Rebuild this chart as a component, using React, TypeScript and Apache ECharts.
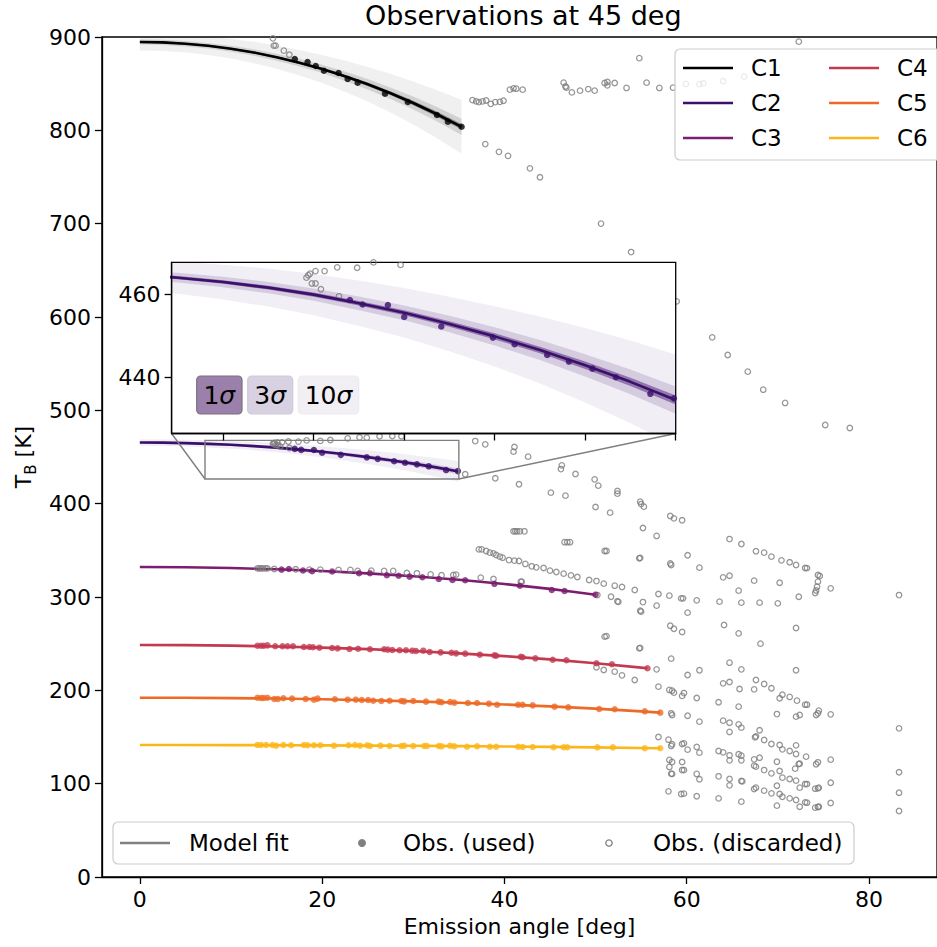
import React, { useEffect, useRef } from 'react';
import * as echarts from 'echarts';

const FONT = 'DejaVu Sans';

// ---------- axes / ticks ----------
const xRange = [-4.165, 87.465];
const yRange = [0, 900];
const xTicks = [0, 20, 40, 60, 80];
const insetXRange = [7.15, 35.0];
const insetYRange = [426.4, 467.8];
const insetXTicks = [10, 15, 20, 25, 30, 35];
const insetYTicks = [440, 460];

// ---------- channels ----------
const channelNames = ['C1', 'C2', 'C3', 'C4', 'C5', 'C6'];
const channelColors = ['#000000', '#3b0f6b', '#7c1d6f', '#c33a50', '#ed6925', '#fbb61a'];

// model fits [angle, T]
const c1Fit = [[0, 894.6], [2.5, 894.2], [5, 892.8], [7.5, 890.6], [10, 887.4], [12.5, 883.4], [15, 878.4], [17.5, 872.5], [20, 865.8], [22.5, 858.0], [25, 849.4], [27.5, 839.8], [30, 829.3], [32.5, 817.8], [35.3, 803.8]];
const c1Sigma = [0.9, 0.92, 0.95, 1.0, 1.05, 1.15, 1.25, 1.37, 1.5, 1.67, 1.85, 2.07, 2.3, 2.58, 2.9];
const c2Fit = [[0, 465.5], [2.5, 465.35], [5, 464.9], [7.5, 464.1], [10, 463.05], [12.5, 461.7], [15, 460.0], [17.5, 457.9], [20, 455.6], [22.5, 452.9], [25, 449.9], [27.5, 446.6], [30, 442.9], [32.5, 438.9], [35, 434.5]];
const c2Sigma = [0.35, 0.36, 0.37, 0.39, 0.42, 0.46, 0.5, 0.55, 0.6, 0.66, 0.73, 0.81, 0.9, 1.0, 1.1];
const c3Fit = [[0, 332.1], [5, 331.8], [10, 331.0], [15, 329.7], [20, 327.8], [25, 325.3], [30, 322.2], [35, 318.4], [40, 313.9], [45, 308.7], [47.5, 305.7], [50, 302.5]];
const c4Fit = [[0, 248.6], [5, 248.4], [10, 247.9], [15, 247.0], [20, 245.8], [25, 244.1], [30, 242.1], [35, 239.6], [40, 236.7], [45, 233.2], [50, 229.1], [55, 224.3], [55.7, 223.6]];
const c5Fit = [[0, 192.1], [5, 192.0], [10, 191.7], [15, 191.2], [20, 190.4], [25, 189.4], [30, 188.2], [35, 186.7], [40, 184.9], [45, 182.8], [50, 180.4], [55, 177.5], [57.1, 176.1]];
const c6Fit = [[0, 141.4], [5, 141.4], [10, 141.3], [15, 141.2], [20, 141.0], [25, 140.8], [30, 140.6], [35, 140.25], [40, 139.9], [45, 139.4], [50, 138.9], [55, 138.2], [57.1, 137.9]];

// observations used in the fits
const c1Used = [[17.0, 876.4], [18.4, 873.2], [19.3, 868.9], [20.2, 863.9], [21.8, 861.4], [22.8, 855.0], [23.9, 851.1], [26.9, 839.3], [29.4, 830.4], [32.6, 816.4], [33.8, 809.3], [35.3, 803.9]];
const c2Used = [[17.0, 458.7], [17.7, 457.6], [19.1, 457.5], [20.0, 454.6], [22.05, 452.3], [24.9, 449.6], [26.1, 448.0], [27.9, 445.4], [29.1, 443.8], [30.4, 442.1], [31.7, 440.0], [33.6, 436.0], [34.9, 434.9]];
const c3Used = [[15.55, 329.3], [16.35, 330.0], [17.9, 328.4], [18.9, 327.7], [21.1, 327.3], [24.05, 325.5], [25.25, 325.5], [27.1, 323.3], [28.4, 322.8], [29.6, 321.8], [31.0, 321.2], [32.8, 319.3], [34.3, 318.3], [35.7, 318.0], [38.9, 314.1], [41.7, 312.1], [45.2, 307.5], [46.6, 306.4], [50.0, 302.5]];
const c4Used = [[12.9, 247.8], [13.3, 247.8], [13.6, 247.8], [14.0, 248.2], [14.85, 247.2], [15.65, 247.2], [16.2, 247.2], [16.8, 247.2], [18.0, 246.4], [18.6, 246.4], [19.0, 246.1], [19.7, 245.7], [21.1, 245.4], [21.7, 245.0], [23.0, 244.3], [23.95, 244.6], [25.25, 244.0], [26.8, 244.0], [27.2, 243.6], [27.7, 243.2], [28.5, 242.9], [29.2, 242.9], [29.9, 242.5], [30.3, 242.1], [31.1, 242.5], [31.8, 241.1], [33.0, 240.7], [34.2, 240.3], [34.7, 239.6], [35.7, 239.3], [37.3, 238.2], [38.9, 237.5], [39.1, 237.1], [41.8, 236.0], [42.0, 235.4], [43.4, 234.3], [45.3, 232.8], [46.8, 232.2], [50.1, 229.0], [51.8, 227.9], [55.7, 223.6]];
const c5Used = [[12.9, 192.1], [13.3, 191.8], [13.6, 191.8], [14.0, 192.1], [14.75, 190.7], [15.15, 190.7], [15.75, 191.5], [16.7, 191.1], [18.2, 190.7], [19.1, 190.0], [19.5, 191.1], [21.4, 190.4], [22.8, 190.0], [23.7, 190.0], [24.35, 189.6], [25.05, 189.6], [25.6, 188.9], [26.5, 188.6], [27.4, 188.9], [28.7, 188.6], [29.0, 188.2], [30.0, 188.6], [31.4, 187.9], [32.8, 187.9], [33.1, 187.2], [34.05, 187.5], [34.5, 186.8], [36.0, 186.4], [37.0, 186.4], [38.3, 185.7], [39.2, 184.6], [41.5, 184.6], [42.0, 184.6], [43.1, 183.9], [45.5, 182.5], [47.0, 181.8], [50.4, 180.0], [52.1, 179.7], [55.4, 177.5], [57.1, 176.1]];
const c6Used = [[12.9, 141.4], [13.3, 141.4], [13.85, 141.4], [14.55, 141.4], [14.95, 140.7], [15.75, 141.4], [16.6, 141.1], [18.0, 141.4], [18.4, 141.1], [19.1, 141.1], [19.8, 141.1], [21.3, 140.7], [22.9, 141.1], [23.6, 141.4], [24.15, 140.7], [24.95, 141.1], [25.25, 140.4], [26.4, 140.7], [27.4, 140.4], [28.7, 140.4], [29.0, 140.7], [30.0, 140.4], [31.2, 140.4], [31.5, 140.4], [32.8, 140.4], [33.1, 140.0], [34.05, 140.7], [34.5, 140.0], [35.9, 139.6], [37.0, 140.0], [38.4, 139.6], [39.1, 139.6], [41.5, 139.6], [42.0, 139.3], [43.1, 139.3], [45.4, 139.0], [46.5, 139.0], [46.9, 139.0], [50.2, 138.9], [51.9, 138.9], [55.4, 137.9], [57.1, 137.9]];

// discarded observations
const discardedHigh = [[14.6, 898.6], [14.7, 890.8], [14.9, 890.8], [15.8, 885.4], [16.4, 881.0],
  [36.5, 832.4], [36.9, 831.0], [37.2, 830.3], [37.6, 831.0], [38.0, 832.0], [38.5, 828.4], [39.0, 830.3], [39.5, 830.5], [39.9, 831.7],
  [40.6, 843.6], [41.0, 845.0], [41.3, 844.6], [42.0, 843.6],
  [46.5, 851.1], [46.7, 847.0], [46.8, 845.7], [47.4, 840.6], [48.3, 842.5], [49.2, 844.2], [49.9, 842.5], [51.0, 850.7], [51.3, 851.8], [51.3, 848.2], [52.1, 850.7], [53.4, 845.4], [54.8, 877.3], [55.6, 851.1], [57.0, 845.4], [58.5, 845.7], [59.9, 849.7], [61.4, 849.5], [61.8, 850.4], [64.0, 852.6], [66.3, 857.6], [72.3, 895.0],
  [37.9, 785.3], [39.4, 777.0], [40.4, 772.7], [42.8, 759.3], [43.9, 749.7], [50.6, 700.1], [53.9, 669.6], [58.9, 616.8], [62.8, 578.2], [64.5, 559.3], [66.7, 541.4], [68.4, 522.1], [70.8, 507.9], [75.2, 484.3], [77.9, 481.1]];
const discardedMid = [[14.6, 464.1], [14.7, 464.7], [14.8, 465.1], [14.9, 462.7], [15.1, 462.7], [15.1, 465.7], [15.4, 461.3], [15.6, 465.7], [16.3, 466.6], [16.4, 459.6], [17.4, 466.5], [18.3, 467.8], [19.8, 467.2], [20.9, 468.2], [22.8, 470.0], [24.1, 471.1], [24.9, 470.7], [26.3, 472.2], [27.7, 472.5], [28.7, 472.2],
  [35.7, 431.5], [36.8, 467.1], [37.9, 463.6], [39.0, 427.2], [41.1, 460.7], [41.0, 455.7], [41.6, 420.8], [42.6, 450.4], [45.1, 411.8], [46.3, 441.1], [46.2, 437.1], [46.7, 408.6], [47.8, 431.8], [49.9, 426.1], [50.0, 396.4], [50.3, 419.3], [51.6, 390.4], [52.4, 413.6], [52.4, 410.7], [54.9, 402.1], [55.0, 399.6], [55.3, 396.8], [55.2, 373.9], [56.7, 365.4], [58.2, 386.8], [58.6, 384.3], [59.5, 382.2]];
const discardedC3 = [[12.9, 330.7], [13.1, 330.7], [13.3, 330.7], [13.5, 330.7], [13.8, 330.7], [14.0, 330.7], [14.75, 330.0], [17.1, 329.7], [18.6, 329.3], [19.8, 329.3], [21.8, 329.0], [23.1, 329.0], [23.9, 327.9], [25.4, 328.2], [26.8, 327.9], [27.8, 327.9], [29.3, 325.7], [30.4, 325.4], [31.9, 324.3], [33.1, 323.3], [34.4, 323.6], [34.7, 323.9],
  [37.4, 320.7], [38.8, 319.3], [41.8, 316.4], [41.9, 316.4],
  [37.2, 351.1], [37.5, 351.1], [38.0, 349.3], [38.4, 347.5], [38.8, 346.8], [39.1, 345.0], [39.5, 343.2], [39.8, 342.1], [40.5, 339.6], [41.1, 338.9], [41.6, 338.6], [42.3, 335.4], [43.0, 332.9], [43.5, 331.8], [44.3, 331.1], [45.0, 328.2], [45.7, 326.8], [46.5, 325.0], [47.3, 323.2], [48.0, 321.4], [49.3, 318.2], [50.1, 317.1], [50.9, 314.3], [52.1, 312.1], [52.9, 310.7], [54.3, 307.5],
  [41.0, 370.4], [41.2, 370.4], [41.4, 370.4], [41.7, 370.4], [42.2, 370.4], [46.6, 358.7], [46.9, 358.7], [47.2, 358.7], [51.0, 349.3], [51.2, 349.3], [54.8, 341.5], [54.9, 342.0], [58.2, 335.9], [58.3, 334.3], [60.1, 344.7], [61.4, 331.4], [64.0, 321.1], [64.7, 322.8], [67.4, 317.5], [70.2, 315.3], [65.7, 306.8],
  [64.7, 362.1], [66.0, 356.8], [67.6, 349.0], [68.5, 347.5], [69.3, 343.2], [70.4, 339.3], [71.3, 337.2], [72.0, 334.3], [73.0, 331.1], [73.2, 331.0], [74.4, 323.6], [74.6, 322.5], [74.4, 316.4], [74.3, 311.0], [74.1, 304.3], [74.2, 307.0], [75.8, 309.3], [72.3, 300.3], [83.3, 302.1],
  [50.2, 302.1], [51.7, 300.3], [52.4, 295.4], [52.5, 294.8], [55.2, 294.6], [54.9, 285.3], [55.0, 284.3], [56.7, 290.7], [56.9, 303.2], [58.1, 301.4], [59.4, 298.6], [59.6, 298.6], [61.1, 296.4], [63.6, 295.0], [66.0, 293.9], [68.0, 293.9], [70.0, 293.2], [60.1, 283.2], [64.1, 270.0], [65.7, 261.1], [68.1, 250.0], [72.0, 266.8], [58.2, 269.2], [58.6, 266.0], [59.5, 262.5], [51.0, 257.5], [51.2, 258.0], [54.8, 245.0], [54.9, 245.5], [58.3, 233.9]];
const discardedLow = [[50.1, 224.7], [50.9, 221.8], [52.1, 220.0], [52.9, 216.1], [54.3, 211.1], [56.7, 222.5], [56.9, 203.9], [60.1, 216.4], [61.4, 221.5], [64.7, 229.6], [66.0, 222.5], [72.0, 221.5],
  [58.1, 200.4], [58.4, 199.6], [58.6, 197.5], [59.5, 194.0], [59.7, 197.1], [61.1, 191.8], [63.5, 187.2], [64.0, 207.5], [64.7, 208.9], [65.8, 201.4], [65.7, 182.5], [67.4, 201.1], [67.6, 211.1], [68.5, 206.8], [69.3, 202.2], [70.5, 195.3], [70.2, 191.5], [71.3, 192.9], [72.1, 188.9], [73.0, 184.6], [73.2, 184.6], [69.9, 174.6], [72.0, 171.8], [72.4, 173.6], [74.2, 173.6], [74.4, 175.4], [74.5, 178.2], [75.8, 174.3],
  [58.3, 175.4], [58.4, 173.6], [60.1, 172.8], [61.4, 166.4], [64.0, 167.5], [64.7, 165.3], [64.7, 155.4], [65.7, 163.6], [66.0, 160.0], [67.5, 149.7], [67.6, 150.7], [68.0, 157.2], [68.5, 146.8], [69.3, 142.5], [70.2, 141.4], [72.0, 141.1], [70.5, 136.8], [71.3, 135.0], [72.0, 131.8], [72.4, 121.4], [73.1, 128.9], [74.2, 120.8], [74.4, 122.9], [75.8, 125.7], [83.3, 159.3],
  [56.9, 150.0], [58.0, 147.1], [58.3, 140.4], [58.4, 142.2], [59.5, 142.5], [59.7, 143.2], [60.1, 136.4], [61.1, 139.3], [61.4, 133.2], [63.5, 135.0], [64.0, 133.6], [64.7, 130.4], [64.7, 125.0], [65.7, 131.5], [66.0, 130.0], [66.0, 125.0], [68.0, 127.8], [67.4, 119.3], [67.6, 118.2], [68.5, 114.6], [69.3, 111.1], [69.9, 123.5], [70.2, 113.6], [71.9, 116.1], [72.3, 121.1],
  [70.5, 106.4], [71.3, 105.0], [72.0, 103.2], [72.4, 95.7], [73.0, 99.6], [73.2, 99.6], [74.1, 94.6], [74.4, 95.0], [74.5, 95.7], [75.8, 101.0], [67.4, 94.3], [67.6, 95.7], [68.5, 92.5], [69.3, 89.6], [69.9, 97.8], [70.2, 88.9], [70.5, 86.0], [69.9, 76.4], [71.3, 84.3], [72.0, 82.5], [72.4, 75.3], [73.0, 80.0], [73.2, 79.6], [74.1, 74.3], [74.4, 75.0], [74.5, 75.3], [75.8, 79.3], [83.3, 112.2], [83.3, 90.3], [83.3, 70.7],
  [63.5, 107.9], [64.7, 105.0], [64.7, 98.2], [66.0, 102.9], [66.1, 102.5], [58.1, 117.9], [58.3, 110.7], [58.4, 110.4], [58.1, 125.4], [58.4, 123.2], [59.5, 123.2], [59.5, 114.6], [59.7, 114.6], [61.1, 110.4], [61.4, 104.7], [58.0, 91.8], [59.4, 88.9], [59.7, 89.3], [61.1, 86.5], [63.5, 84.3], [66.0, 80.7], [67.4, 126.1]];

const sigmaLevels = [10, 3, 1];
const sigmaLabels = ['1', '3', '10'];

// ---------- layout ----------
const MAIN = { left: 100.5, top: 37, width: 845.2, height: 840 };
const INSET = { left: 171.6, top: 262.4, width: 504.1, height: 171.1 };

const allFits = [c1Fit, c2Fit, c3Fit, c4Fit, c5Fit, c6Fit];
const allUsed = [c1Used, c2Used, c3Used, c4Used, c5Used, c6Used];
const allDiscarded = [...discardedHigh, ...discardedMid, ...discardedC3, ...discardedLow];

function bandRenderer(fit: number[][], sigma: number[], rgb: string, alphas: number[]) {
  return (_params: any, api: any) => {
    const children = sigmaLevels.map((k, li) => {
      const upper = fit.map((p, i) => api.coord([p[0], p[1] + k * sigma[i]]));
      const lower = fit.map((p, i) => api.coord([p[0], p[1] - k * sigma[i]])).reverse();
      return {
        type: 'polygon',
        shape: { points: upper.concat(lower) },
        style: { fill: `rgba(${rgb},${alphas[li]})`, stroke: 'none' },
        silent: true,
      };
    });
    return { type: 'group', children };
  };
}

const discardedStyle = { color: 'rgba(255,255,255,0)', borderColor: '#7a7a7a', borderWidth: 1.25 };

function buildOption() {
  const series: any[] = [];
  const grayRgb = '0,0,0';
  const c2Rgb = '59,15,107';

  // main bands
  series.push({ type: 'custom', name: 'C1 band', xAxisIndex: 0, yAxisIndex: 0, z: 1, clip: true, silent: true,
    data: [c1Fit[0]], renderItem: bandRenderer(c1Fit, c1Sigma, grayRgb, [0.06, 0.12, 0.35]) });
  series.push({ type: 'custom', name: 'C2 band', xAxisIndex: 0, yAxisIndex: 0, z: 1, clip: true, silent: true,
    data: [c2Fit[0]], renderItem: bandRenderer(c2Fit, c2Sigma, c2Rgb, [0.07, 0.15, 0.45]) });

  // discarded
  series.push({ type: 'scatter', name: 'Obs. (discarded)', xAxisIndex: 0, yAxisIndex: 0, z: 2, data: allDiscarded,
    symbol: 'circle', symbolSize: 5.5, itemStyle: discardedStyle, silent: true });

  // fits
  channelNames.forEach((n, i) => {
    series.push({ type: 'line', name: n, xAxisIndex: 0, yAxisIndex: 0, z: 2, data: allFits[i], symbol: 'none', showSymbol: false,
      smooth: false, lineStyle: { color: channelColors[i], width: 2.6 }, itemStyle: { color: channelColors[i] }, silent: true });
  });
  // used
  channelNames.forEach((n, i) => {
    series.push({ type: 'scatter', name: n + ' obs', xAxisIndex: 0, yAxisIndex: 0, z: 2, data: allUsed[i],
      symbol: 'circle', symbolSize: 6.5, itemStyle: { color: channelColors[i] }, silent: true });
  });

  // zoom indicator
  series.push({ type: 'custom', name: 'zoom box', xAxisIndex: 0, yAxisIndex: 0, z: 4, clip: false, silent: true,
    data: [[insetXRange[0], insetYRange[0]]],
    renderItem: (_p: any, api: any) => {
      const tl = api.coord([insetXRange[0], insetYRange[1]]);
      const br = api.coord([insetXRange[1], insetYRange[0]]);
      const st = { stroke: '#7f7f7f', lineWidth: 1.4, fill: 'none' };
      return { type: 'group', children: [
        { type: 'rect', shape: { x: tl[0], y: tl[1], width: br[0] - tl[0], height: br[1] - tl[1] }, style: st },
        { type: 'line', shape: { x1: tl[0], y1: br[1], x2: INSET.left, y2: INSET.top + INSET.height }, style: st },
        { type: 'line', shape: { x1: br[0], y1: br[1], x2: INSET.left + INSET.width, y2: INSET.top + INSET.height }, style: st },
      ] };
    } });

  // inset
  series.push({ type: 'custom', name: 'C2 band inset', xAxisIndex: 1, yAxisIndex: 1, z: 6, clip: true, silent: true,
    data: [c2Fit[0]], renderItem: bandRenderer(c2Fit, c2Sigma, c2Rgb, [0.07, 0.15, 0.45]) });
  series.push({ type: 'scatter', name: 'discarded inset', xAxisIndex: 1, yAxisIndex: 1, z: 7, clip: true, data: allDiscarded,
    symbol: 'circle', symbolSize: 5.5, itemStyle: discardedStyle, silent: true });
  series.push({ type: 'line', name: 'C2 inset', xAxisIndex: 1, yAxisIndex: 1, z: 8, data: c2Fit, symbol: 'none', clip: true,
    smooth: false, lineStyle: { color: channelColors[1], width: 2.6 }, silent: true });
  series.push({ type: 'scatter', name: 'C2 obs inset', xAxisIndex: 1, yAxisIndex: 1, z: 9, clip: true, data: c2Used,
    symbol: 'circle', symbolSize: 6.5, itemStyle: { color: channelColors[1] }, silent: true });

  const axisLineStyle = { color: '#000', width: 1.3 };
  const labelStyle = { fontSize: 22, color: '#000', fontFamily: FONT };

  const legendCommon = {
    orient: 'vertical', top: 55, itemWidth: 50, itemHeight: 2.6, itemGap: 9, padding: 0, z: 13, selectedMode: false,
    icon: 'rect',
    textStyle: { fontSize: 23, color: '#000', fontFamily: FONT, lineHeight: 26, padding: [0, 0, 0, 13] },
  };

  // graphic elements
  const elements: any[] = [];
  elements.push({ type: 'rect', z: 5, silent: true,
    shape: { x: INSET.left, y: INSET.top, width: INSET.width, height: INSET.height },
    style: { fill: '#ffffff', stroke: '#000', lineWidth: 1.3 } });
  // sigma legend inside inset
  const sigBoxes = [
    { x: 196.7, w: 45.3, fill: '#9a80aa', stroke: '#7a7080' },
    { x: 247.7, w: 45.0, fill: '#d8d1e1', stroke: '#cfc9d8' },
    { x: 298.3, w: 60.4, fill: '#f1eff4', stroke: '#ecebf0' },
  ];
  sigBoxes.forEach((b, i) => {
    elements.push({ type: 'rect', z: 11, silent: true, shape: { x: b.x, y: 376, width: b.w, height: 38, r: 4 },
      style: { fill: b.fill, stroke: b.stroke, lineWidth: 1.2 } });
    elements.push({ type: 'text', z: 12, silent: true, x: b.x + b.w / 2, y: 395.5,
      style: { text: sigmaLabels[i] + '{i|σ}', fontSize: 25, fontFamily: FONT, fill: '#000', align: 'center', verticalAlign: 'middle',
        rich: { i: { fontSize: 25, fontFamily: FONT, fontStyle: 'italic', fill: '#000' } } } });
  });
  // upper legend frame
  elements.push({ type: 'rect', z: 12, silent: true, shape: { x: 675, y: 49, width: 270, height: 111, r: 5 },
    style: { fill: 'rgba(255,255,255,0.8)', stroke: '#cccccc', lineWidth: 1.2 } });
  // bottom legend
  elements.push({ type: 'rect', z: 12, silent: true, shape: { x: 113, y: 822, width: 741, height: 42, r: 5 },
    style: { fill: 'rgba(255,255,255,0.8)', stroke: '#cccccc', lineWidth: 1.2 } });
  elements.push({ type: 'line', z: 13, silent: true, shape: { x1: 120, y1: 843, x2: 170, y2: 843 }, style: { stroke: '#808080', lineWidth: 2.6 } });
  elements.push({ type: 'text', z: 13, silent: true, x: 189, y: 843, style: { text: 'Model fit', fontSize: 23, fontFamily: FONT, fill: '#000', verticalAlign: 'middle' } });
  elements.push({ type: 'circle', z: 13, silent: true, shape: { cx: 362, cy: 843, r: 4 }, style: { fill: '#808080' } });
  elements.push({ type: 'text', z: 13, silent: true, x: 403, y: 843, style: { text: 'Obs. (used)', fontSize: 23, fontFamily: FONT, fill: '#000', verticalAlign: 'middle' } });
  elements.push({ type: 'circle', z: 13, silent: true, shape: { cx: 609, cy: 843, r: 3.2 }, style: { fill: 'none', stroke: '#7a7a7a', lineWidth: 1.25 } });
  elements.push({ type: 'text', z: 13, silent: true, x: 653, y: 843, style: { text: 'Obs. (discarded)', fontSize: 23, fontFamily: FONT, fill: '#000', verticalAlign: 'middle' } });

  return {
    animation: false,
    backgroundColor: '#ffffff',
    textStyle: { fontFamily: FONT },
    title: {
      text: 'Observations at 45 deg', left: 365, top: 2, padding: 0,
      textStyle: { fontSize: 27, fontWeight: 'normal', color: '#000', fontFamily: FONT },
    },
    grid: [
      { ...MAIN, show: true, borderColor: '#000', borderWidth: 1.3, backgroundColor: 'transparent', containLabel: false },
      { ...INSET, show: false, containLabel: false },
    ],
    xAxis: [
      {
        type: 'value', gridIndex: 0, min: xRange[0], max: xRange[1], splitNumber: 5,
        axisLine: { show: true, onZero: false, lineStyle: axisLineStyle },
        axisTick: { show: true, length: 7, lineStyle: axisLineStyle, customValues: xTicks },
        axisLabel: { ...labelStyle, margin: 11, customValues: xTicks, formatter: (v: number) => (xTicks.includes(v) ? String(v) : '') },
        splitLine: { show: false },
        name: 'Emission angle [deg]', nameLocation: 'middle', nameGap: 38,
        nameTextStyle: { fontSize: 22, color: '#000', fontFamily: FONT },
      },
      {
        type: 'value', gridIndex: 1, min: insetXRange[0], max: insetXRange[1], z: 10,
        axisLine: { show: true, onZero: false, lineStyle: axisLineStyle },
        axisTick: { show: true, length: 7, lineStyle: axisLineStyle, customValues: insetXTicks },
        axisLabel: { show: false },
        splitLine: { show: false },
      },
    ],
    yAxis: [
      {
        type: 'value', gridIndex: 0, min: yRange[0], max: yRange[1], interval: 100,
        axisLine: { show: true, onZero: false, lineStyle: axisLineStyle },
        axisTick: { show: true, length: 7, lineStyle: axisLineStyle },
        axisLabel: { ...labelStyle, margin: 11 },
        splitLine: { show: false },
        name: 'T{sub|B} [K]', nameLocation: 'middle', nameGap: 63, nameRotate: 90,
        nameTextStyle: { fontSize: 22, color: '#000', fontFamily: FONT, lineHeight: 30,
          rich: { sub: { fontSize: 15, color: '#000', fontFamily: FONT, verticalAlign: 'bottom', lineHeight: 30 } } },
      },
      {
        type: 'value', gridIndex: 1, min: insetYRange[0], max: insetYRange[1], z: 10,
        axisLine: { show: true, onZero: false, lineStyle: axisLineStyle },
        axisTick: { show: true, length: 7, lineStyle: axisLineStyle, customValues: insetYTicks },
        axisLabel: { ...labelStyle, margin: 11, customValues: insetYTicks, formatter: (v: number) => (insetYTicks.includes(v) ? String(v) : '') },
        splitLine: { show: false },
      },
    ],
    legend: [
      { ...legendCommon, left: 683, data: channelNames.slice(0, 3) },
      { ...legendCommon, left: 829, data: channelNames.slice(3, 6) },
    ],
    graphic: { elements },
    series,
  };
}

export default function App() {
  const ref = useRef<HTMLDivElement>(null);
  useEffect(() => {
    if (!ref.current) return;
    const chart = echarts.init(ref.current, null, { renderer: 'svg' });
    chart.setOption(buildOption() as any);
    return () => chart.dispose();
  }, []);
  return (
    <div
      ref={ref}
      style={{ position: 'fixed', left: 0, top: 0, width: 937, height: 947, background: '#ffffff' }}
    />
  );
}
